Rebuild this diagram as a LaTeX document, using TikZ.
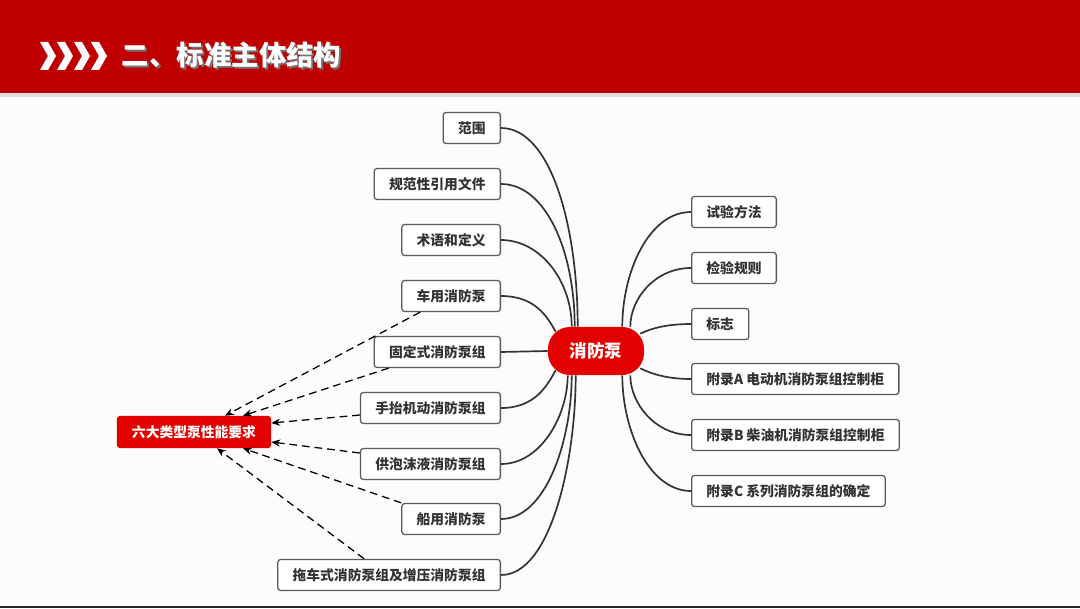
\documentclass[tikz,border=0pt]{standalone}
\usepackage{fontspec}
\setmainfont{Noto Sans CJK SC}
\usetikzlibrary{arrows.meta,calc}
\definecolor{Banner}{HTML}{C00000}
\definecolor{Pump}{HTML}{E30000}
\definecolor{Edge}{HTML}{5A5A5A}
\definecolor{Ink}{HTML}{333333}
\definecolor{Paper}{HTML}{FCFCFC}

\begin{document}
\begin{tikzpicture}[x=0.025cm,y=0.025cm,
    item/.style={draw=Edge,line width=0.9pt,rounded corners=2pt,fill=white,
      minimum height=0.775cm,inner xsep=0.37cm,text=Ink,
      font=\fontsize{9.8}{11}\selectfont\bfseries},
    core/.style={fill=Pump,rounded corners=0.55cm,minimum width=2.4cm,
      minimum height=1.2cm,text=white,font=\fontsize{12.5}{14}\selectfont\bfseries},
    req/.style={fill=Pump,rounded corners=2pt,minimum width=3.85cm,
      minimum height=0.8cm,text=white,font=\fontsize{9.8}{11}\selectfont\bfseries},
    branch/.style={line width=1.2pt,draw=Ink},
    ref/.style={-{Stealth[length=2.2mm,width=1.8mm]},dash pattern=on 5.5pt off 3.5pt,
      line width=0.9pt,black}
  ]
    \useasboundingbox (0,0) rectangle (1080,608);
    \fill[Paper] (0,0) rectangle (1080,608);
    % banner
    \fill[black!12] (0,511) rectangle (1080,515);
    \fill[Banner] (0,515) rectangle (1080,608);
    \fill[black!85] (0,0) rectangle (1080,2.5);
    \foreach \x in {40,57,74,91}
      \fill[white] (\x,566) -- ++(8,0) -- ++(8,-14) -- ++(-8,-14) -- ++(-8,0) -- ++(8,14) -- cycle;
    \node[anchor=west,text=black!55,font=\fontsize{19.5}{22}\selectfont\bfseries] (shade) at (119,551) {二、标准主体结构};
    \node[anchor=west,text=white,font=\fontsize{19.5}{22}\selectfont\bfseries] (title) at (117,553) {二、标准主体结构};

    \node[core] (pump) at (596,257) {消防泵};
    \node[req] (six) at (194,176) {六大类型泵性能要求};

    % left branches
    \node[item,anchor=east] (scope) at (501,480) {范围};
    \node[item,anchor=east] (norm) at (501,424) {规范性引用文件};
    \node[item,anchor=east] (term) at (501,368) {术语和定义};
    \node[item,anchor=east] (vehic) at (501,312) {车用消防泵};
    \node[item,anchor=east] (fixed) at (501,256) {固定式消防泵组};
    \node[item,anchor=east] (portab) at (501,200) {手抬机动消防泵组};
    \node[item,anchor=east] (foam) at (501,144) {供泡沫液消防泵组};
    \node[item,anchor=east] (marine) at (501,89) {船用消防泵};
    \node[item,anchor=east] (trail) at (501,33) {拖车式消防泵组及增压消防泵组};

    % right branches
    \node[item,anchor=west] (test) at (691,396) {试验方法};
    \node[item,anchor=west] (inspect) at (691,340) {检验规则};
    \node[item,anchor=west] (sign) at (691,284) {标志};
    \node[item,anchor=west] (appA) at (691,229) {附录A\ 电动机消防泵组控制柜};
    \node[item,anchor=west] (appB) at (691,173) {附录B\ 柴油机消防泵组控制柜};
    \node[item,anchor=west] (appC) at (691,117) {附录C\ 系列消防泵组的确定};

    \draw[branch] (scope.east) .. controls +(50,0) and +(0,100) .. ($(pump.north west)+(30,0)$);
    \draw[branch] (norm.east) .. controls +(45,0) and +(0,75) .. ($(pump.north west)+(27,0)$);
    \draw[branch] (term.east) .. controls +(40,0) and +(0,45) .. ($(pump.north west)+(24,0)$);
    \draw[branch] (vehic.east) .. controls +(35,0) and +(-8,14) .. ($(pump.north west)+(8,-5)$);
    \draw[branch] (fixed.east) -- (pump.west);
    \draw[branch] (portab.east) .. controls +(35,0) and +(-8,-14) .. ($(pump.south west)+(8,5)$);
    \draw[branch] (foam.east) .. controls +(40,0) and +(0,-40) .. ($(pump.south west)+(20,0)$);
    \draw[branch] (marine.east) .. controls +(45,0) and +(0,-65) .. ($(pump.south west)+(24,0)$);
    \draw[branch] (trail.east) .. controls +(50,0) and +(0,-85) .. ($(pump.south west)+(28,0)$);

    \draw[branch] (test.west) .. controls +(-42,0) and +(0,55) .. ($(pump.north east)+(-22,0)$);
    \draw[branch] (inspect.west) .. controls +(-36,0) and +(0,28) .. ($(pump.north east)+(-14,0)$);
    \draw[branch] (sign.west) .. controls +(-25,0) and +(10,5) .. ($(pump.north east)+(-4,-7)$);
    \draw[branch] (appA.west) .. controls +(-25,0) and +(10,-5) .. ($(pump.south east)+(-4,7)$);
    \draw[branch] (appB.west) .. controls +(-36,0) and +(0,-28) .. ($(pump.south east)+(-14,0)$);
    \draw[branch] (appC.west) .. controls +(-42,0) and +(0,-55) .. ($(pump.south east)+(-22,0)$);

    % six pump types
    \draw[ref] ($(vehic.south west)+(19,0)$) -- ($(six.north)+(31,0)$);
    \draw[ref] ($(fixed.south west)+(15,0)$) -- ($(six.north)+(49,0)$);
    \draw[ref] ($(portab.west)+(0,-7)$) -- ($(six.east)+(0,9)$);
    \draw[ref] ($(foam.west)+(0,11)$) -- ($(six.east)+(0,-10)$);
    \draw[ref] (marine.north west) -- ($(six.south)+(49,0)$);
    \draw[ref] ($(trail.north west)+(87,0)$) -- ($(six.south)+(23,0)$);
\end{tikzpicture}
\end{document}
